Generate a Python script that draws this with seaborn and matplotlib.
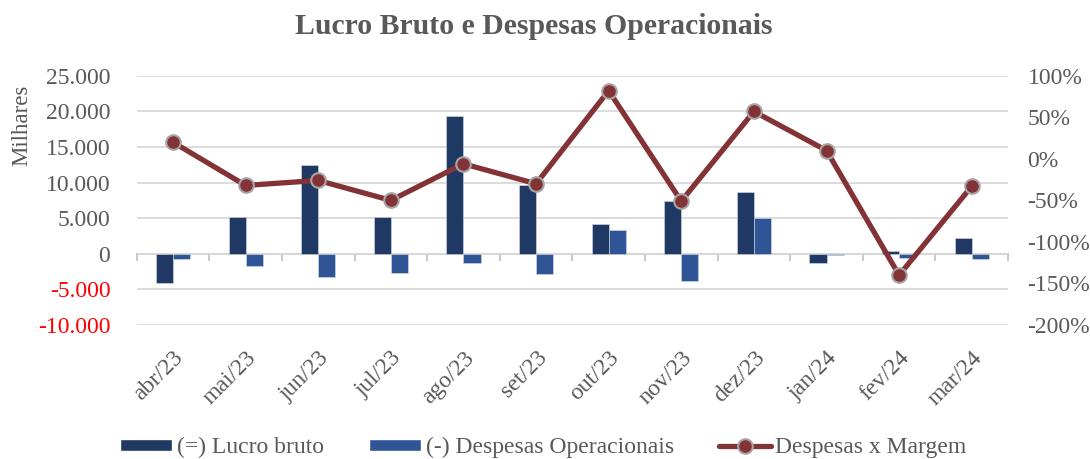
import numpy as np
import pandas as pd
import matplotlib
matplotlib.use("Agg")
import matplotlib.pyplot as plt
import seaborn as sns
from matplotlib.patches import Patch
from matplotlib.lines import Line2D
from matplotlib.ticker import FuncFormatter, PercentFormatter

# data
meses = ['abr/23', 'mai/23', 'jun/23', 'jul/23', 'ago/23', 'set/23',
         'out/23', 'nov/23', 'dez/23', 'jan/24', 'fev/24', 'mar/24']
lucro_bruto = [-4100, 5200, 12400, 5200, 19300, 9700,
               4200, 7400, 8700, -1300, 400, 2200]
despesas_oper = [-800, -1700, -3200, -2700, -1300, -2900,
                 3400, -3800, 5000, -100, -600, -700]
margem = [0.20, -0.32, -0.26, -0.50, -0.06, -0.30,
          0.82, -0.51, 0.57, 0.10, -1.40, -0.33]

serie_lucro = '(=) Lucro bruto'
serie_desp = '(-) Despesas Operacionais'
serie_margem = 'Despesas x Margem'

cor_lucro = '#1F3864'
cor_desp = '#2F5597'
cor_linha = '#833236'
cinza = '#595959'
grade = '#D9D9D9'

df = pd.DataFrame({
    'mes': meses * 2,
    'serie': [serie_lucro] * len(meses) + [serie_desp] * len(meses),
    'valor': lucro_bruto + despesas_oper,
})

sns.set_style('white')
plt.rcParams['font.family'] = ['Liberation Serif', 'DejaVu Serif']
plt.rcParams['axes.unicode_minus'] = False

fs = 17  # tick / legend font size

fig = plt.figure(figsize=(10.9, 4.59), dpi=100)
ax = fig.add_axes([0.1254, 0.2919, 0.7994, 0.5431])

sns.barplot(data=df, x='mes', y='valor', hue='serie', order=meses,
            hue_order=[serie_lucro, serie_desp],
            palette=[cor_lucro, cor_desp], saturation=1, width=0.47, gap=0,
            edgecolor='#D6DCE5', linewidth=0.4, legend=False, ax=ax,
            zorder=3)

ax.set_ylim(-10000, 25000)
ax.set_yticks(np.arange(-10000, 25001, 5000))
ax.yaxis.set_major_formatter(FuncFormatter(lambda v, p: f"{v:,.0f}".replace(',', '.')))
ax.grid(axis='y', color=grade, linewidth=1.3, zorder=0)
ax.set_axisbelow(True)
for s in ax.spines.values():
    s.set_visible(False)
ax.tick_params(axis='y', length=0, pad=19, labelsize=fs, labelcolor=cinza)
ax.tick_params(axis='x', length=0, pad=16, labelsize=fs, labelcolor=cinza)
for lbl in ax.get_yticklabels():
    if lbl.get_text().startswith('-'):
        lbl.set_color('red')
for lbl in ax.get_xticklabels():
    lbl.set_rotation(45)
    lbl.set_ha('right')
    lbl.set_rotation_mode('anchor')
ax.set_xlabel('')
ax.set_ylabel('Milhares', fontsize=16.5, color=cinza)
ax.yaxis.set_label_coords(-0.12, 0.80)
ax.set_xlim(-0.5, len(meses) - 0.5)

# eixo de categorias cruzando em zero
zero_pos = (0 - (-10000)) / 35000
eixo0 = ax.secondary_xaxis(zero_pos)
eixo0.set_xticks(np.arange(-0.5, len(meses), 1.0))
eixo0.tick_params(length=5, width=1.2, color='#BFBFBF', labelbottom=False)
eixo0.spines['bottom'].set_color('#BFBFBF')
eixo0.spines['bottom'].set_linewidth(1.3)

ax2 = ax.twinx()
sns.lineplot(x=np.arange(len(meses)), y=margem, ax=ax2, color=cor_linha,
             linewidth=3.8, marker='o', markersize=10.5,
             markerfacecolor=cor_linha, markeredgecolor='#A5A5A5',
             markeredgewidth=1.5, zorder=5)
ax2.set_ylim(-2, 1)
ax2.set_yticks(np.arange(-2, 1.01, 0.5))
ax2.yaxis.set_major_formatter(PercentFormatter(1.0, decimals=0))
ax2.tick_params(axis='y', length=0, pad=14, labelsize=fs, labelcolor=cinza)
for s in ax2.spines.values():
    s.set_visible(False)
ax2.grid(False)
ax2.set_xlim(-0.5, len(meses) - 0.5)

fig.suptitle('Lucro Bruto e Despesas Operacionais', x=0.4894, y=0.972,
             fontsize=21.4, fontweight='bold', color=cinza)

handles = [
    Patch(facecolor=cor_lucro, label=serie_lucro),
    Patch(facecolor=cor_desp, label=serie_desp),
    Line2D([0], [0], color=cor_linha, linewidth=3.8, marker='o', markersize=10.5,
           markerfacecolor=cor_linha, markeredgecolor='#A5A5A5',
           markeredgewidth=1.5, label=serie_margem),
]
fig.legend(handles=handles, loc='lower center', bbox_to_anchor=(0.4986, -0.045),
           ncol=3, frameon=False, fontsize=fs, labelcolor=cinza,
           handlelength=2.2, handleheight=0.45, handletextpad=0.2,
           columnspacing=1.9)

fig.savefig('out.png', dpi=100, facecolor='white')
